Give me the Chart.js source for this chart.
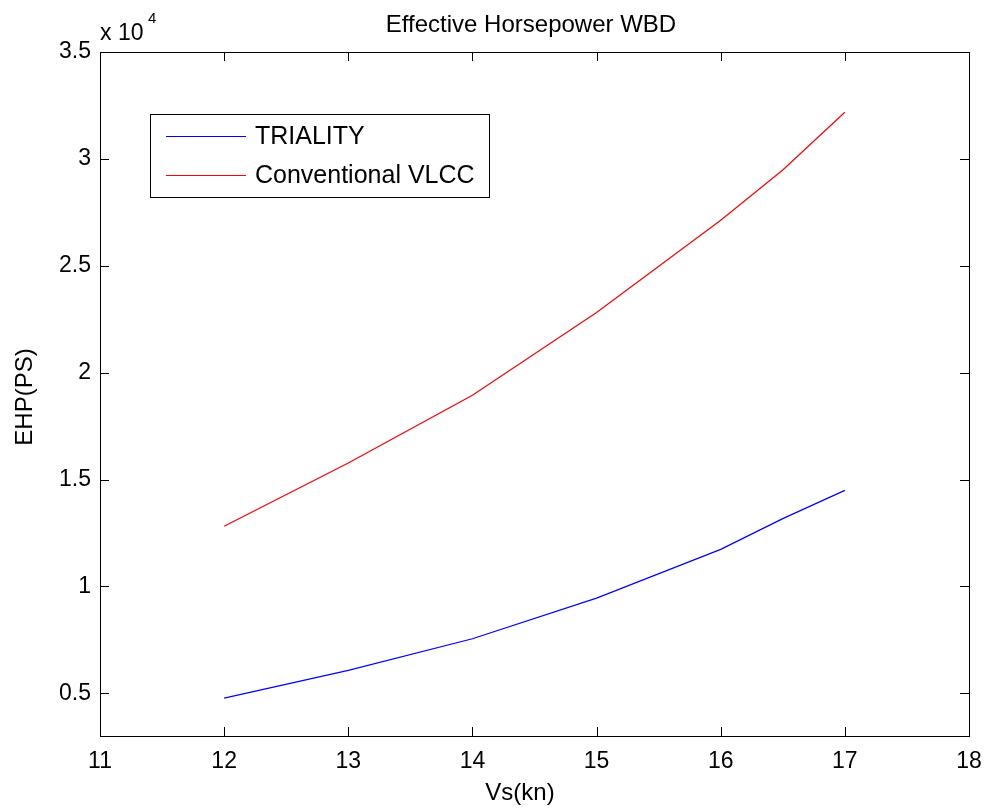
<!DOCTYPE html>
<html>
<head>
<meta charset="utf-8">
<script src="https://cdn.jsdelivr.net/npm/chart.js@4.4.1/dist/chart.umd.min.js"></script>
<style>
  html, body { margin: 0; padding: 0; background: #ffffff; }
  #wrap { width: 988px; height: 812px; position: relative; }
  canvas { display: block; }
</style>
</head>
<body>
<div id="wrap"><canvas id="c" width="988" height="812"></canvas></div>
<script>
// ---- data ----
const speeds = [12, 13, 14, 15, 16, 16.5, 17];                 // Vs (kn)
const triality = [4770, 6070, 7550, 9450, 11730, 13170, 14490]; // EHP (PS)
const conventional = [12810, 15770, 18940, 22810, 27130, 29480, 32180];
const seriesNames = ['TRIALITY', 'Conventional VLCC'];
const xTicks = [11, 12, 13, 14, 15, 16, 17, 18];
const yTicks = [5000, 10000, 15000, 20000, 25000, 30000, 35000];
const yTickLabels = ['0.5', '1', '1.5', '2', '2.5', '3', '3.5'];
const titleText = 'Effective Horsepower WBD';
const xLabel = 'Vs(kn)';
const yLabel = 'EHP(PS)';

const FONT = "'Liberation Sans', Arial, Helvetica, sans-serif";

const framePlugin = {
  id: 'matlabFrame',
  afterDatasetsDraw(chart) {
    const ctx = chart.ctx;
    const a = chart.chartArea;
    const xs = chart.scales.x, ys = chart.scales.y;
    ctx.save();
    ctx.strokeStyle = '#000000';
    ctx.lineWidth = 1;
    // frame
    ctx.strokeRect(Math.round(a.left) + 0.5, Math.round(a.top) + 0.5,
                   Math.round(a.right - a.left), Math.round(a.bottom - a.top));
    // inward ticks
    const tl = 9;
    ctx.beginPath();
    xTicks.forEach(v => {
      const px = Math.round(xs.getPixelForValue(v)) + 0.5;
      ctx.moveTo(px, a.bottom); ctx.lineTo(px, a.bottom - tl);
      ctx.moveTo(px, a.top); ctx.lineTo(px, a.top + tl);
    });
    yTicks.forEach(v => {
      const py = Math.round(ys.getPixelForValue(v)) + 0.5;
      ctx.moveTo(a.left, py); ctx.lineTo(a.left + tl, py);
      ctx.moveTo(a.right, py); ctx.lineTo(a.right - tl, py);
    });
    ctx.stroke();

    // title
    ctx.fillStyle = '#000000';
    ctx.font = '24px ' + FONT;
    ctx.textAlign = 'center';
    ctx.textBaseline = 'alphabetic';
    ctx.fillText(titleText, 531, 32);

    // exponent label
    ctx.textAlign = 'left';
    ctx.font = '23px ' + FONT;
    ctx.fillText('x 10', 100, 40);
    ctx.font = '15px ' + FONT;
    ctx.fillText('4', 148, 23);

    // axis labels
    ctx.font = '24px ' + FONT;
    ctx.textAlign = 'center';
    ctx.textBaseline = 'middle';
    ctx.fillText(xLabel, 520, 793);
    ctx.save();
    ctx.translate(25, 397);
    ctx.rotate(-Math.PI / 2);
    ctx.fillText(yLabel, 0, 0);
    ctx.restore();

    // legend box
    const bx = 150, by = 114, bw = 339, bh = 83;
    ctx.fillStyle = '#ffffff';
    ctx.fillRect(bx, by, bw, bh);
    ctx.strokeStyle = '#000000';
    ctx.lineWidth = 1;
    ctx.strokeRect(bx + 0.5, by + 0.5, bw, bh);
    const rows = [136, 175];
    chart.data.datasets.forEach((ds, i) => {
      ctx.strokeStyle = ds.borderColor;
      ctx.lineWidth = 1;
      ctx.beginPath();
      ctx.moveTo(166, rows[i] + 0.5);
      ctx.lineTo(246, rows[i] + 0.5);
      ctx.stroke();
      ctx.fillStyle = '#000000';
      ctx.font = '25px ' + FONT;
      ctx.textAlign = 'left';
      ctx.textBaseline = 'middle';
      ctx.fillText(ds.label, 255, rows[i] + 1);
    });
    ctx.restore();
  }
};

const toPoints = ys => speeds.map((x, i) => ({ x: x, y: ys[i] }));

new Chart(document.getElementById('c'), {
  type: 'line',
  data: {
    datasets: [
      { label: seriesNames[0], data: toPoints(triality), borderColor: '#0000ff',
        borderWidth: 1.2, pointRadius: 0, tension: 0, fill: false },
      { label: seriesNames[1], data: toPoints(conventional), borderColor: '#ff0000',
        borderWidth: 1.2, pointRadius: 0, tension: 0, fill: false }
    ]
  },
  options: {
    responsive: false,
    devicePixelRatio: 1,
    animation: false,
    layout: { padding: { top: 52, right: 19, left: 0, bottom: 0 } },
    plugins: {
      legend: { display: false },
      title: { display: false },
      tooltip: { enabled: false }
    },
    scales: {
      x: {
        type: 'linear',
        min: 11, max: 18,
        grid: { display: false, drawTicks: false },
        border: { display: false },
        afterBuildTicks: s => { s.ticks = xTicks.map(v => ({ value: v })); },
        afterFit: s => { s.height = 76; s.paddingLeft = 0; s.paddingRight = 0; },
        ticks: {
          padding: 12,
          color: '#000000',
          font: { family: FONT, size: 23 },
          maxRotation: 0,
          autoSkip: false,
          callback: v => String(v)
        }
      },
      y: {
        type: 'linear',
        min: 3000, max: 35000,
        grid: { display: false, drawTicks: false },
        border: { display: false },
        afterBuildTicks: s => { s.ticks = yTicks.map(v => ({ value: v })); },
        afterFit: s => { s.width = 100; s.paddingTop = 0; s.paddingBottom = 0; },
        ticks: {
          padding: 9,
          color: '#000000',
          font: { family: FONT, size: 23 },
          autoSkip: false,
          callback: v => yTickLabels[yTicks.indexOf(v)]
        }
      }
    }
  },
  plugins: [framePlugin]
});
</script>
</body>
</html>
